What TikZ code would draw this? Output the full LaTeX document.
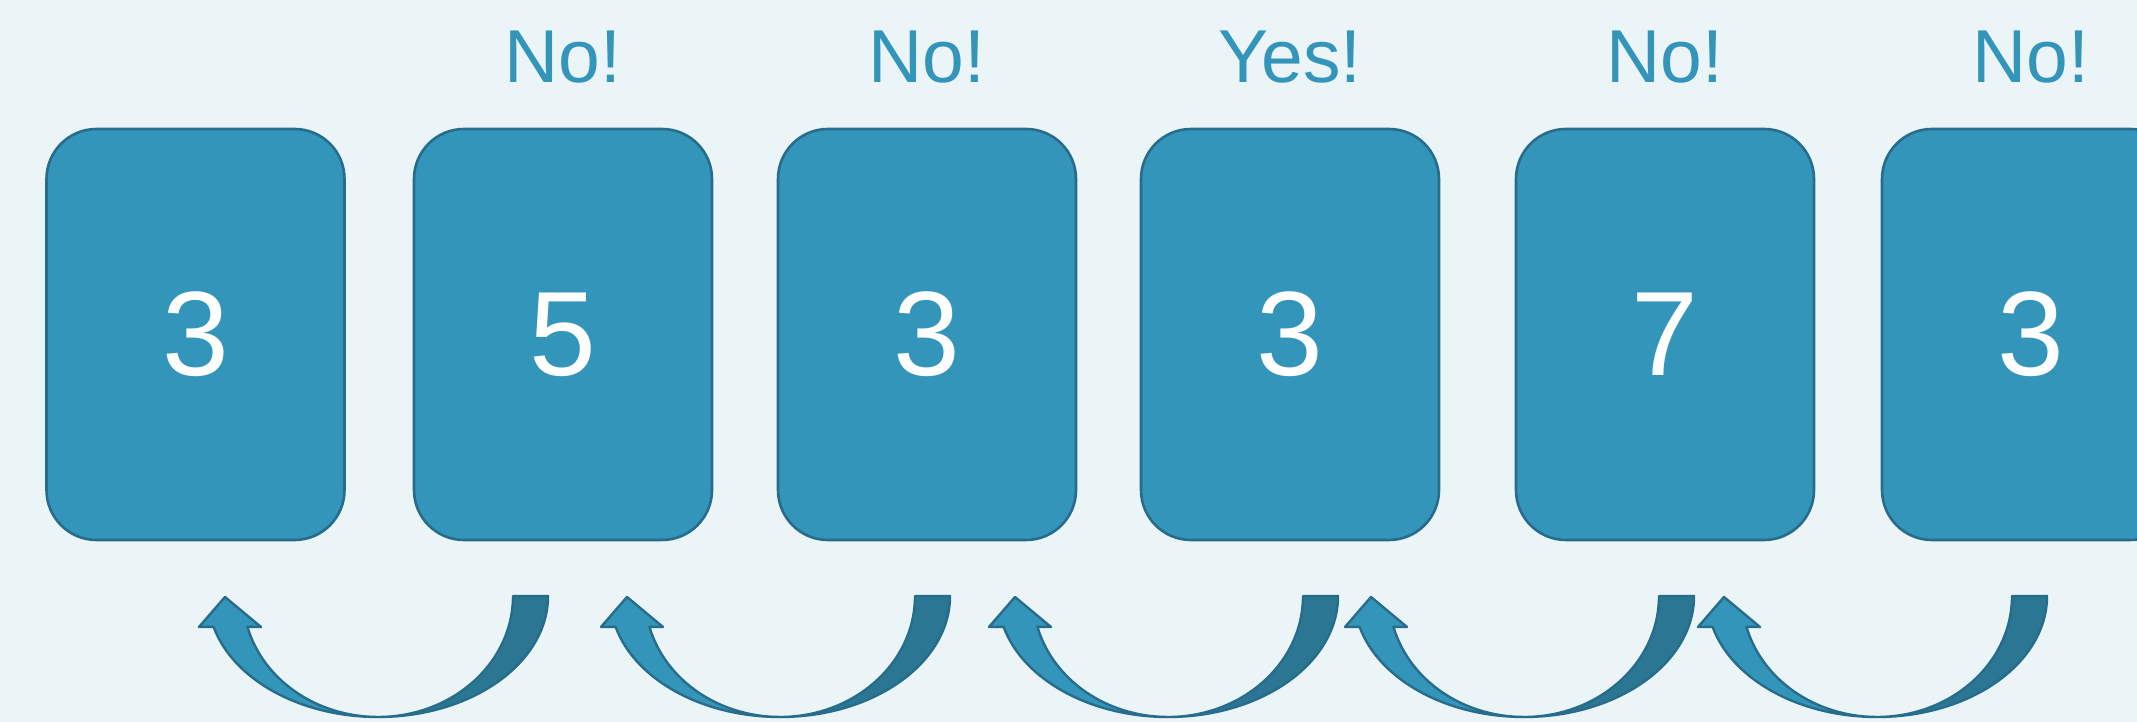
\documentclass[tikz,border=0pt]{standalone}
\usepackage{fontspec}
\setmainfont{Liberation Sans}

\definecolor{bg}{HTML}{EBF4F6}
\definecolor{cardfill}{HTML}{3495BB}
\definecolor{cardline}{HTML}{266C8B}
\definecolor{shadefill}{HTML}{2B7693}

\tikzset{
  card/.style={draw=cardline, fill=cardfill, line width=2.6pt,
    rounded corners=50pt, minimum width=298pt, minimum height=411pt,
    inner sep=0pt, text=white, font=\fontsize{120}{120}\selectfont},
  verdict/.style={text=cardfill, font=\fontsize{75}{75}\selectfont,
    anchor=base, inner sep=0pt},
  backpart/.style={draw=cardline, fill=shadefill, line width=2.4pt, line join=round},
  frontpart/.style={draw=cardline, fill=cardfill, line width=2.4pt, line join=round},
}

% curved block arrow pointing back to the previous card; #1 = x of the tip
\newcommand\turnarrow[1]{%
  \begin{scope}[shift={(#1,0)}]
    % rear ribbon: from the flat tail down to the lowest point
    \path[backpart] (323,126)
      arc[start angle=0, end angle=-90, x radius=170, y radius=121]
      arc[start angle=-90, end angle=0, x radius=135, y radius=121]
      -- cycle;
    % front ribbon with the arrow head
    \path[frontpart] (-11.4,95.1)
      arc[start angle=194.8, end angle=270, x radius=170, y radius=121]
      arc[start angle=270, end angle=194.8, x radius=135, y radius=121]
      -- (36,95) -- (0,125) -- (-26,95) -- cycle;
  \end{scope}}

\begin{document}
\begin{tikzpicture}[x=1pt, y=1pt]
  \useasboundingbox (0,0) rectangle (2137,722);
  \fill[bg] (0,0) rectangle (2137,722);
  \clip (0,0) rectangle (2137,722);

  % the row of cards
  \node[card] (b1) at (195.5,387.5) {3};
  \node[card] (b2) at (563,387.5) {5};
  \node[card] (b3) at (927,387.5) {3};
  \node[card] (b4) at (1290,387.5) {3};
  \node[card] (b5) at (1665,387.5) {7};
  \node[card] (b6) at (2031,387.5) {3};

  % answers above the cards
  \coordinate (row) at (0,639);
  \node[verdict] (v2) at (b2 |- row) {No!};
  \node[verdict] (v3) at (b3 |- row) {No!};
  \node[verdict] (v4) at (b4 |- row) {Yes!};
  \node[verdict] (v5) at (b5 |- row) {No!};
  \node[verdict] (v6) at (b6 |- row) {No!};

  % arrows stepping back underneath
  \turnarrow{225}
  \turnarrow{627}
  \turnarrow{1015}
  \turnarrow{1371}
  \turnarrow{1724}
\end{tikzpicture}
\end{document}
